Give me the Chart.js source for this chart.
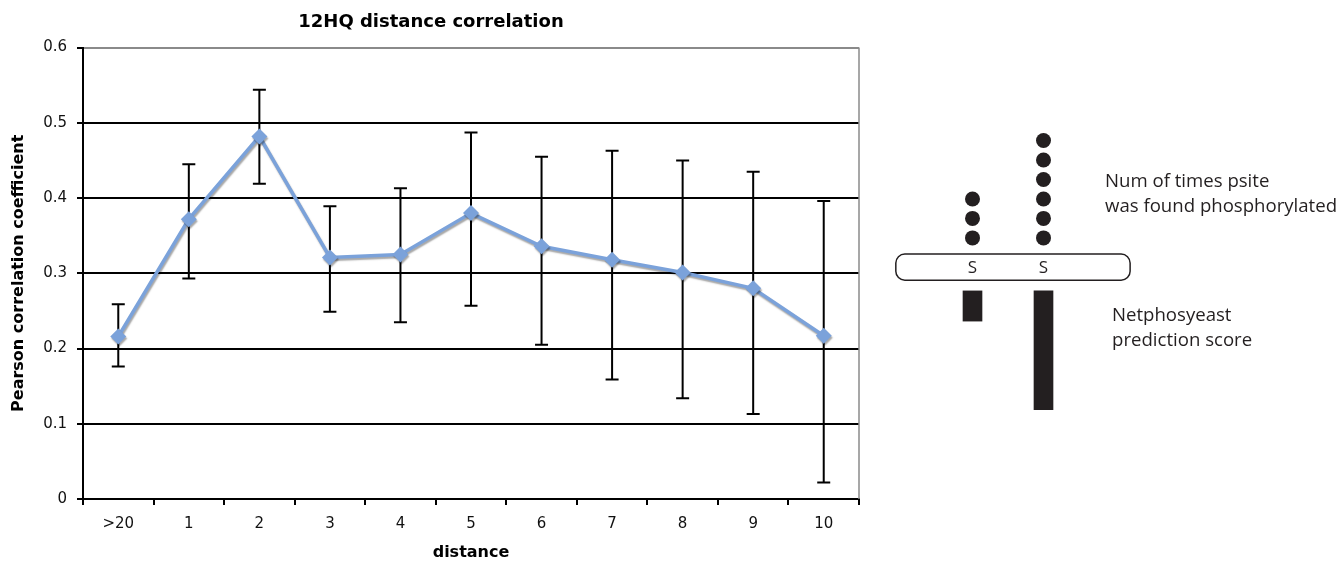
<!DOCTYPE html>
<html><head><meta charset="utf-8">
<script src="https://cdn.jsdelivr.net/npm/chart.js@4.4.1/dist/chart.umd.min.js"></script>
<style>
html,body{margin:0;padding:0;background:#fff;width:1340px;height:562px;overflow:hidden;position:relative}
#main{position:absolute;left:0;top:0;width:870px;height:562px}
#diag{position:absolute;left:866px;top:121px;width:284px;height:302px}
.note{position:absolute;font-family:"Open Sans",sans-serif;font-size:18.6px;line-height:25px;color:#231f20;white-space:nowrap}
</style></head><body>
<div id="main"><canvas id="c1" width="870" height="562"></canvas></div>
<div id="diag"><canvas id="c2" width="284" height="302"></canvas></div>
<div class="note" style="left:1105px;top:167px">Num of times psite<br>was found phosphorylated</div>
<div class="note" style="left:1112px;top:301px">Netphosyeast<br>prediction score</div>
<script>
// ---- data ----
const categories = ['>20','1','2','3','4','5','6','7','8','9','10'];
const correlation = [0.216,0.372,0.482,0.321,0.325,0.380,0.336,0.318,0.301,0.280,0.217];
const errUpper = [0.259,0.445,0.544,0.389,0.413,0.487,0.455,0.463,0.450,0.435,0.396];
const errLower = [0.176,0.293,0.419,0.249,0.235,0.257,0.205,0.159,0.134,0.113,0.022];
const yTicks = [0,0.1,0.2,0.3,0.4,0.5,0.6];
const siteLabels = ['S','S'];
const phosphoCounts = [3,6];
const predictionScores = [1.55,6.1];

// ---- plugins ----
const errorBars = {
  id:'errorBars',
  beforeDatasetsDraw(chart){
    const {ctx, chartArea:a, scales:{x,y}} = chart;
    ctx.save();
    ctx.strokeStyle='#8a8a8a'; ctx.lineWidth=1.5;
    ctx.beginPath(); ctx.moveTo(a.right, a.top); ctx.lineTo(a.right, a.bottom); ctx.stroke();
    ctx.strokeStyle='#000'; ctx.lineWidth=2;
    categories.forEach((c,i)=>{
      const px = x.getPixelForValue(i);
      const t = y.getPixelForValue(errUpper[i]), b = y.getPixelForValue(errLower[i]);
      ctx.beginPath();
      ctx.moveTo(px,t); ctx.lineTo(px,b);
      ctx.moveTo(px-6.5,t); ctx.lineTo(px+6.5,t);
      ctx.moveTo(px-6.5,b); ctx.lineTo(px+6.5,b);
      ctx.stroke();
    });
    ctx.restore();
    ctx.shadowColor='rgba(0,0,0,0.35)';
    ctx.shadowOffsetX=1; ctx.shadowOffsetY=2; ctx.shadowBlur=1.5;
  },
  afterDatasetsDraw(chart){
    const ctx=chart.ctx;
    ctx.shadowColor='rgba(0,0,0,0)'; ctx.shadowOffsetX=0; ctx.shadowOffsetY=0; ctx.shadowBlur=0;
  }
};

new Chart(document.getElementById('c1'), {
  type:'line',
  data:{
    labels: categories,
    datasets:[{
      data: correlation,
      borderColor:'#7ba2da',
      backgroundColor:'#7ba2da',
      borderWidth:3.5,
      tension:0,
      pointStyle:'rectRot',
      pointRadius:8,
      pointBorderWidth:0,
      pointBackgroundColor:'#7ba2da'
    }]
  },
  options:{
    responsive:false,
    devicePixelRatio:1,
    animation:false,
    events:[],
    layout:{padding:{left:3,right:11,top:0,bottom:0}},
    plugins:{
      legend:{display:false},
      tooltip:{enabled:false},
      title:{display:true,text:'12HQ distance correlation',color:'#000',
        font:{family:'DejaVu Sans',size:18,weight:'bold'},padding:{top:12,bottom:14}}
    },
    scales:{
      x:{
        type:'category',
        offset:true,
        afterFit(s){ s.height=63; },
        grid:{display:true,drawOnChartArea:false,drawTicks:true,tickLength:6,offset:true,
          color:'#000',tickColor:'#000',lineWidth:2},
        border:{display:true,color:'#000',width:2},
        ticks:{color:'#111',padding:10,font:{family:'DejaVu Sans',size:15},maxRotation:0,autoSkip:false},
        title:{display:true,text:'distance',color:'#000',font:{family:'DejaVu Sans',size:16,weight:'bold'},padding:{top:0,bottom:0}}
      },
      y:{
        min:0,max:0.6,
        afterFit(s){ s.width=80; },
        afterBuildTicks(s){ s.ticks = yTicks.map(v=>({value:v})); },
        grid:{color:(c)=> (c.tick && c.tick.value===0.6) ? '#8a8a8a' : '#000',
          tickColor:'#000',lineWidth:2,tickLength:6,drawTicks:true},
        border:{display:true,color:'#000',width:2},
        ticks:{color:'#111',padding:10,font:{family:'DejaVu Sans',size:15}},
        title:{display:true,text:'Pearson correlation coefficient',color:'#000',
          font:{family:'DejaVu Sans',size:16,weight:'bold'},padding:{top:6,bottom:0}}
      }
    }
  },
  plugins:[errorBars]
});

// ---- schematic: phosphosites ----
const rodPlugin = {
  id:'rod',
  beforeDatasetsDraw(chart){
    const {ctx, scales:{x,y}} = chart;
    const x0=x.getPixelForValue(-0.08), x1=x.getPixelForValue(3.22);
    const y0=y.getPixelForValue(0.17), y1=y.getPixelForValue(-1.17);
    ctx.save();
    ctx.fillStyle='#fff'; ctx.strokeStyle='#231f20'; ctx.lineWidth=1.5;
    ctx.beginPath(); ctx.roundRect(x0,y0,x1-x0,y1-y0,9); ctx.fill(); ctx.stroke();
    ctx.fillStyle='#231f20'; ctx.font='17px "Open Sans"'; ctx.textAlign='center'; ctx.textBaseline='middle';
    const cy = y.getPixelForValue(-0.5);
    siteLabels.forEach((s,i)=> ctx.fillText(s, x.getPixelForValue(i+1), cy+1));
    ctx.restore();
  }
};
const barTop = -1.72;
new Chart(document.getElementById('c2'), {
  type:'scatter',
  data:{
    datasets:[
      ...phosphoCounts.map((n,i)=>({
        type:'scatter',
        data: Array.from({length:n},(_,k)=>({x:i+1,y:k+1})),
        pointRadius:7.5, pointBorderWidth:0, backgroundColor:'#231f20', pointBackgroundColor:'#231f20', clip:false
      })),
      {
        type:'bar',
        data: predictionScores.map((s,i)=>({x:i+1,y:[barTop,barTop-s]})),
        backgroundColor:'#231f20', borderWidth:0, barThickness:19, clip:false
      }
    ]
  },
  options:{
    responsive:false, devicePixelRatio:1, animation:false, events:[],
    layout:{padding:0, autoPadding:false},
    plugins:{legend:{display:false},tooltip:{enabled:false},title:{display:false}},
    scales:{
      x:{type:'linear',min:-0.5,max:3.5,display:false,offset:false},
      y:{type:'linear',min:-8.5,max:7,display:false,offset:false}
    }
  },
  plugins:[rodPlugin]
});
</script>
</body></html>
